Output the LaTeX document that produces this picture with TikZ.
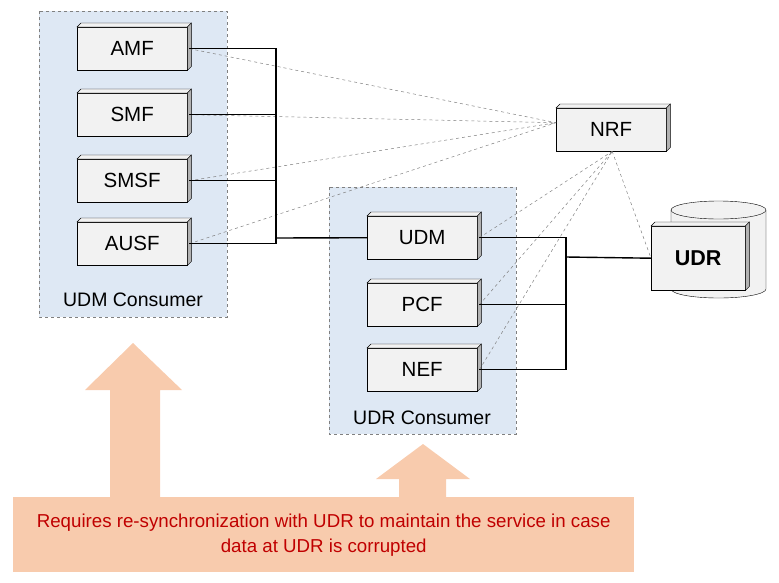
\documentclass[tikz,border=0pt]{standalone}
\usepackage{fontspec}
\setmainfont{Liberation Sans}
\usetikzlibrary{positioning}
\definecolor{grpfill}{HTML}{DEE8F4}
\definecolor{boxfill}{HTML}{F2F2F2}
\definecolor{peach}{HTML}{F8CBAD}
\definecolor{darkred}{HTML}{C00000}
\tikzset{
  nf/.style={draw, fill=boxfill, minimum width=110pt, minimum height=43pt, inner sep=0pt, font=\fontsize{20.5}{22}\selectfont},
  grp/.style={draw=gray, dashed, fill=grpfill},
  link/.style={line width=1.4pt},
  reg/.style={gray, dashed, line width=0.5pt}
}
% 3D edge on top and right of a box
\newcommand{\nfedge}[1]{%
  \draw[fill=boxfill] (#1.north west) -- ++(4,-4) -- ([shift={(4,-4)}]#1.north east) -- (#1.north east) -- cycle;
  \draw[fill=gray!60] (#1.north east) -- ++(4,-4) -- ([shift={(4,-4)}]#1.south east) -- (#1.south east) -- cycle;}
\begin{document}
\begin{tikzpicture}[x=1pt,y=-1pt]
        \useasboundingbox (0,0) rectangle (779,582);
        \draw[grp] (39,11) rectangle (227,317);
        \node[font=\fontsize{19.5}{21}\selectfont] (udmcon) at (133,300) {UDM Consumer};
        \draw[grp] (329,187) rectangle (516,434);
        \node[font=\fontsize{19.5}{21}\selectfont] (udrcon) at (422,418) {UDR Consumer};
        % cylinder
        \draw[fill=boxfill] (671,210) -- (671,289) arc[start angle=180, end angle=0, x radius=47.5, y radius=9] -- (766,210) arc[start angle=0, end angle=-180, x radius=47.5, y radius=9];
        \draw (671,210) arc[start angle=180, end angle=0, x radius=47.5, y radius=9];
        \node[nf, anchor=north west, minimum width=94pt, minimum height=64pt, font=\fontsize{21.5}{23}\selectfont\bfseries] (udr) at (651,226) {UDR};
        \nfedge{udr}
        \node[nf, anchor=north west] (amf) at (77,27) {AMF};
        \node[nf, anchor=north west] (smf) at (77,93) {SMF};
        \node[nf, anchor=north west] (smsf) at (77,159) {SMSF};
        \node[nf, anchor=north west] (ausf) at (77,222) {AUSF};
        \node[nf, anchor=north west] (udm) at (367,216) {UDM};
        \node[nf, anchor=north west] (pcf) at (367,283) {PCF};
        \node[nf, anchor=north west] (nef) at (367,348) {NEF};
        \node[nf, anchor=north west] (nrf) at (556,108) {NRF};
        \foreach \n in {amf,smf,smsf,ausf,udm,pcf,nef,nrf} {\nfedge{\n}}
        \coordinate (nrfl) at ([yshift=7]nrf.west);
        \coordinate (nrfb) at ([xshift=1]nrf.south);
        \foreach \n in {amf,smf,smsf,ausf} {\draw[reg] ([xshift=2]\n.east) -- (nrfl);}
        \foreach \n in {udm,pcf,nef} {\draw[reg] ([xshift=2]\n.east) -- (nrfb);}
        \draw[reg] (nrfb) -- (udr.west);
        \coordinate (busa) at (276,238);
        \coordinate (busb) at (566,257);
        \foreach \n in {amf,smf,smsf,ausf} {\draw[link] ([xshift=2]\n.east) -| (busa);}
        \draw[link] (busa |- amf.east) -- (busa) -- (udm.west);
        \foreach \n in {udm,pcf,nef} {\draw[link] ([xshift=2]\n.east) -| (busb);}
        \draw[link] (busb) -- (udr.west);
        % block arrows
        \fill[peach] (110,500) -- (110,390) -- (85,390) -- (133,343) -- (182,390) -- (160,390) -- (160,500) -- cycle;
        \fill[peach] (399,500) -- (399,479) -- (376,479) -- (423,444) -- (470,479) -- (446,479) -- (446,500) -- cycle;
        \node[fill=peach, minimum width=621pt, minimum height=75pt, anchor=north west, align=center, text=darkred, font=\fontsize{18.7}{25}\selectfont] (note) at (13,497) {Requires re-synchronization with UDR to maintain the service in case\\data at UDR is corrupted};
\end{tikzpicture}
\end{document}
